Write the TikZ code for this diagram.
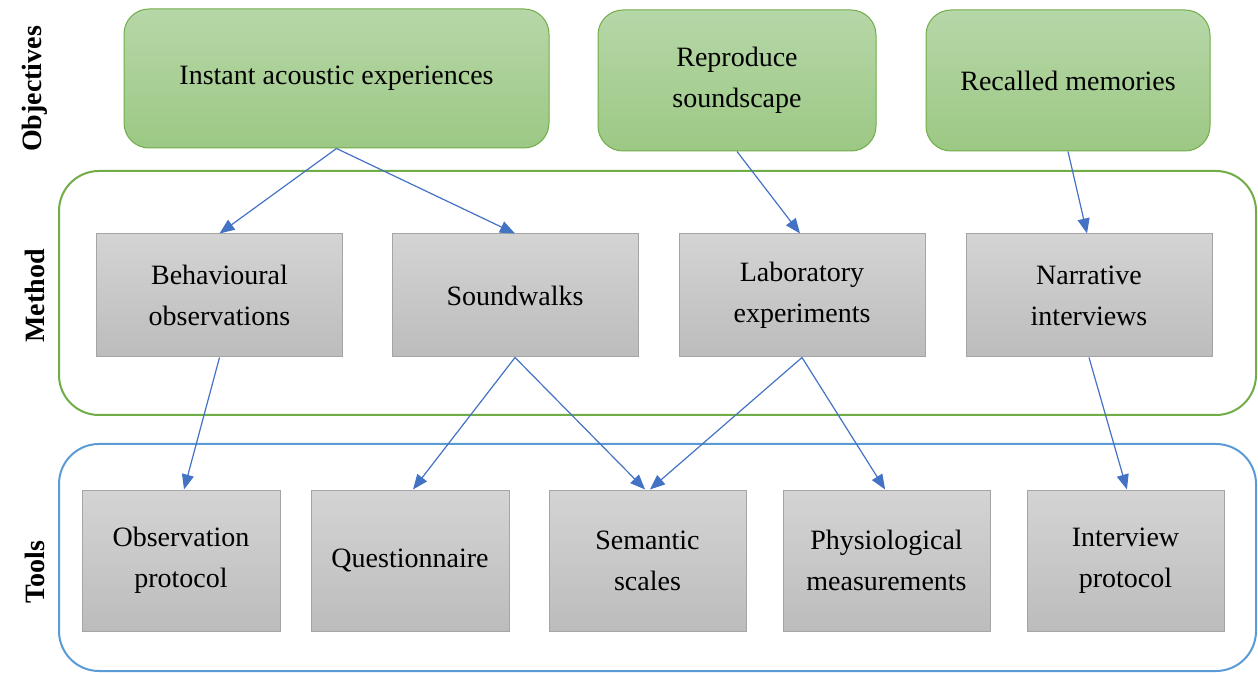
\documentclass[tikz,border=0pt]{standalone}
\usepackage{fontspec}
\setmainfont{Liberation Serif}
\usetikzlibrary{fit,arrows.meta}
\definecolor{gtop}{HTML}{B6D7A8}
\definecolor{gbot}{HTML}{9CC884}
\definecolor{gline}{HTML}{70AD47}
\definecolor{ktop}{HTML}{D4D4D4}
\definecolor{kbot}{HTML}{BCBCBC}
\definecolor{kline}{HTML}{A5A5A5}
\definecolor{bline}{HTML}{5B9BD5}
\definecolor{arr}{HTML}{4472C4}
\tikzset{
  txt/.style={font=\fontsize{14}{20.5}\selectfont, align=center, inner sep=0pt, anchor=center},
  objbox/.style={txt, draw=gline, line width=0.5pt, rounded corners=12.5pt,
    top color=gtop, bottom color=gbot},
  graybox/.style={txt, draw=kline, line width=0.5pt,
    top color=ktop, bottom color=kbot},
  methodbox/.style={graybox, minimum width=123pt, minimum height=61.5pt},
  toolbox/.style={graybox, minimum height=70.5pt},
  frame/.style={line width=1pt, rounded corners=20pt, inner sep=0pt},
  rowlabel/.style={font=\fontsize{14}{16}\selectfont\bfseries, rotate=90},
  link/.style={draw=arr, line width=0.6pt, -{Triangle[length=7.5pt,width=6pt]}}
}
\begin{document}
\begin{tikzpicture}[x=0.5pt,y=-0.5pt]
\useasboundingbox (0,0) rectangle (1258,673);

% row frames
\node[frame, draw=gline, fit={(59,171) (1256,415)}] (methodframe) {};
\node[frame, draw=bline, fit={(59,444) (1256,671)}] (toolframe) {};

% row labels
\node[rowlabel] (lobj) at (35,89) {Objectives};
\node[rowlabel] (lmet) at (35,296) {Method};
\node[rowlabel] (ltoo) at (35,572) {Tools};

% objectives
\node[objbox, minimum width=212.5pt, minimum height=69.5pt] (g1) at (336.5,78.5) {Instant acoustic experiences};
\node[objbox, minimum width=139pt, minimum height=70.5pt] (g2) at (737,80.5) {Reproduce\\soundscape};
\node[objbox, minimum width=142pt, minimum height=70.5pt] (g3) at (1068,80.5) {Recalled memories};

% methods
\node[methodbox] (m1) at (219.5,295.5) {Behavioural\\observations};
\node[methodbox] (m2) at (515,295.5) {Soundwalks};
\node[methodbox] (m3) at (802,295.5) {Laboratory\\experiments};
\node[methodbox] (m4) at (1089,295.5) {Narrative\\interviews};

% tools
\node[toolbox, minimum width=99pt] (t1) at (181,560.5) {Observation\\protocol};
\node[toolbox, minimum width=99pt] (t2) at (410,560.5) {Questionnaire};
\node[toolbox, minimum width=98.5pt] (t3) at (647.5,560.5) {Semantic\\scales};
\node[toolbox, minimum width=103.5pt] (t4) at (886.5,560.5) {Physiological\\measurements};
\node[toolbox, minimum width=98.5pt] (t5) at (1125.5,560.5) {Interview\\protocol};

% objective -> method
\draw[link] (g1.south) -- (m1.north);
\draw[link] (g1.south) -- (m2.north);
\draw[link] (g2.south) -- ([xshift=-1pt]m3.north);
\draw[link] (g3.south) -- ([xshift=-1pt]m4.north);

% method -> tool
\draw[link] (m1.south) -- ([xshift=1.5pt]t1.north);
\draw[link] (m2.south) -- ([xshift=1.5pt]t2.north);
\draw[link] (m2.south) -- ([xshift=-1.2pt]t3.north);
\draw[link] (m3.south) -- ([xshift=1.2pt]t3.north);
\draw[link] (m3.south) -- ([xshift=-0.7pt]t4.north);
\draw[link] (m4.south) -- ([xshift=0.7pt]t5.north);
\end{tikzpicture}
\end{document}
